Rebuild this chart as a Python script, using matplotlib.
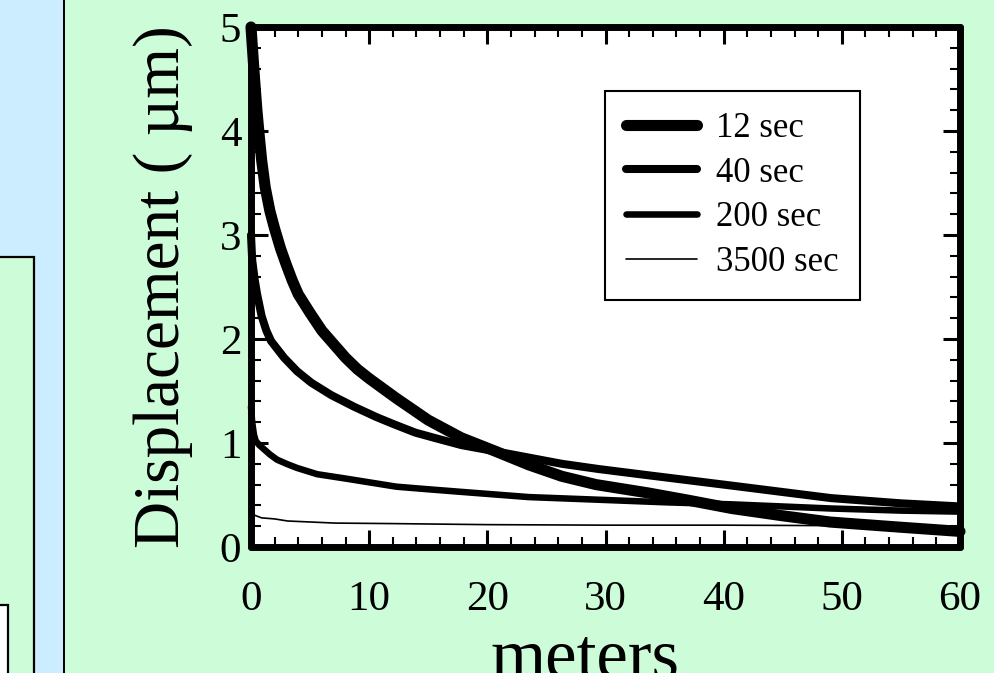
import matplotlib
matplotlib.use("Agg")
import matplotlib.pyplot as plt
from matplotlib.patches import Rectangle
from matplotlib.ticker import MultipleLocator

# Displacement (µm) versus distance along the line (m) for four elapsed times
x_12s = [0, 0.15, 0.3, 0.5, 0.7, 0.9, 1.2, 1.6, 2.0, 2.5, 3.0, 3.5, 4.0, 5.0, 6.0, 7.0,
         8.0, 9.0, 10.0, 12.3, 15.0, 17.8, 20.7, 23.5, 26.3, 29.2, 33.6, 37.0, 40.7,
         45.0, 49.0, 55.0, 60.0]
y_12s = [5.0, 4.75, 4.5, 4.2, 3.95, 3.72, 3.46, 3.23, 3.06, 2.87, 2.71, 2.56, 2.43, 2.25,
         2.08, 1.95, 1.82, 1.71, 1.62, 1.43, 1.22, 1.05, 0.92, 0.79, 0.68, 0.60, 0.52,
         0.45, 0.37, 0.30, 0.24, 0.19, 0.15]

x_40s = [0, 0.1, 0.3, 0.5, 0.9, 1.3, 1.7, 2.8, 3.9, 5.1, 6.8, 8.7, 10.6, 12.1, 13.9,
         15.5, 17.8, 22.1, 26.3, 29.4, 33.6, 40.7, 49.1, 55.0, 60.0]
y_40s = [3.0, 2.76, 2.58, 2.44, 2.22, 2.08, 1.98, 1.82, 1.69, 1.58, 1.46, 1.35, 1.25,
         1.18, 1.10, 1.05, 0.98, 0.89, 0.80, 0.75, 0.69, 0.59, 0.47, 0.42, 0.39]

x_200s = [0, 0.1, 0.25, 0.4, 0.7, 1.1, 1.6, 2.2, 3.0, 3.9, 5.6, 7.9, 10.1, 12.3, 15.0,
          17.8, 23.5, 29.3, 35.0, 40.7, 49.1, 55.0, 60.0]
y_200s = [1.35, 1.2, 1.08, 1.02, 0.98, 0.94, 0.89, 0.84, 0.80, 0.76, 0.70, 0.66, 0.62,
          0.58, 0.555, 0.53, 0.48, 0.455, 0.43, 0.41, 0.37, 0.35, 0.34]

x_3500s = [0, 0.2, 0.9, 2.0, 3.1, 7.1, 12.0, 20.0, 30.0, 40.0, 50.0, 60.0]
y_3500s = [0.33, 0.31, 0.28, 0.27, 0.25, 0.23, 0.225, 0.215, 0.21, 0.21, 0.205, 0.2]

series_labels = ["12 sec", "40 sec", "200 sec", "3500 sec"]
x_ticks = [0, 10, 20, 30, 40, 50, 60]
y_ticks = [0, 1, 2, 3, 4, 5]

GREEN = "#CCFCD8"
BLUE = "#CCECFF"
SERIF = "Liberation Serif"

W, H = 994, 673
fig = plt.figure(figsize=(W / 100, H / 100), dpi=100)
fig.patch.set_facecolor(GREEN)


def px_rect(x0, y0, x1, y1, **kw):
    """Rectangle given in pixel coordinates measured from the top-left corner."""
    r = Rectangle((x0 / W, 1 - y1 / H), (x1 - x0) / W, (y1 - y0) / H,
                  transform=fig.transFigure, **kw)
    fig.add_artist(r)


# side panel of the slide
px_rect(-2, -2, 63, H + 2, facecolor=BLUE, edgecolor="none")
px_rect(63, -2, 65, H + 2, facecolor="black", edgecolor="none")
px_rect(-2, 257, 34, H + 4, facecolor=GREEN, edgecolor="black", linewidth=1.6)
px_rect(-2, 605, 8, H + 4, facecolor="white", edgecolor="black", linewidth=1.6)

ax = fig.add_axes([251 / W, 1 - 547 / H, (960 - 251) / W, (547 - 27) / H])
ax.set_facecolor("white")

widths = [8.0, 5.8, 4.7, 1.2]
for xs, ys, lab, lw in zip([x_12s, x_40s, x_200s, x_3500s],
                           [y_12s, y_40s, y_200s, y_3500s],
                           series_labels, widths):
    ax.plot(xs, ys, color="black", linewidth=lw, label=lab,
            solid_capstyle="round", solid_joinstyle="round", clip_on=False, zorder=3)

ax.set_xlim(0, 60)
ax.set_ylim(0, 5)
ax.set_xticks(x_ticks)
ax.set_yticks(y_ticks)
ax.xaxis.set_minor_locator(MultipleLocator(2))
ax.yaxis.set_minor_locator(MultipleLocator(0.2))

for s in ax.spines.values():
    s.set_linewidth(5)
    s.set_capstyle("round")

ax.tick_params(which="both", direction="in", top=True, right=True, color="black")
ax.tick_params(which="major", length=12, width=2.2)
ax.tick_params(which="minor", length=7, width=1.5)
ax.tick_params(axis="x", which="major", pad=24)
ax.tick_params(axis="y", which="major", pad=7)
for lbl in ax.get_xticklabels() + ax.get_yticklabels():
    lbl.set_fontfamily(SERIF)
    lbl.set_fontsize(31)

fig.text(163 / W, 1 - 287 / H, "Displacement ( \u00b5m)", rotation=90,
         ha="center", va="center", fontsize=47, family=SERIF)
fig.text(585 / W, 1 - 677 / H, "meters", ha="center", va="baseline",
         fontsize=51, family=SERIF)

leg = ax.legend(loc="upper left",
                bbox_to_anchor=((605 - 251) / (960 - 251), (547 - 91) / (547 - 27)),
                borderaxespad=0, prop={"family": SERIF, "size": 25},
                handlelength=2.05, handletextpad=0.55, labelspacing=0.34,
                borderpad=0.6, fancybox=False, framealpha=1, edgecolor="black")
leg.get_frame().set_linewidth(1.5)
for h in leg.get_lines():
    h.set_solid_capstyle("round")

fig.savefig("out.png", dpi=100, facecolor=fig.get_facecolor())
